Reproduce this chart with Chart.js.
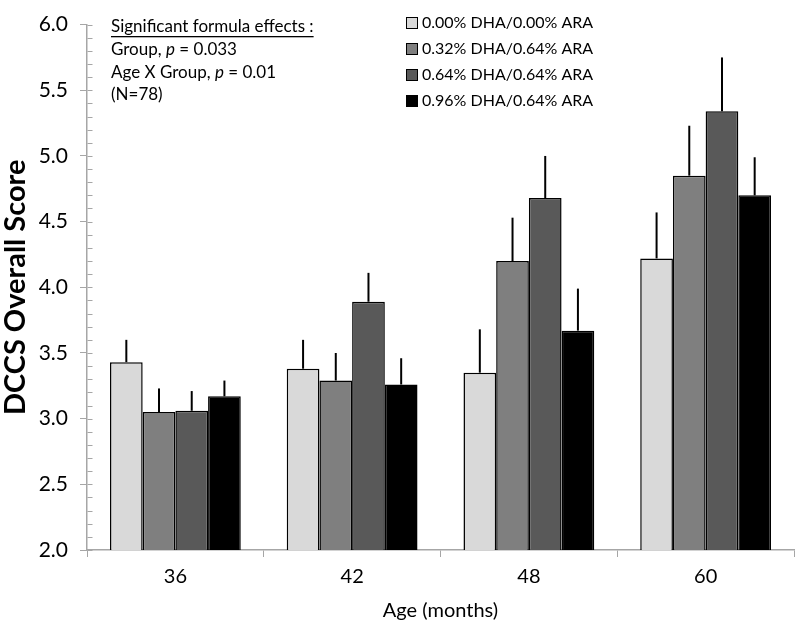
<!DOCTYPE html>
<html lang="en">
<head>
    <meta charset="UTF-8">
    <title>DCCS Overall Score</title>
    <script src="https://cdn.jsdelivr.net/npm/chart.js@4.4.1/dist/chart.umd.min.js"></script>
    <style>
        body { margin: 0; background: #ffffff; }
        .wrap { width: 797px; height: 635px; }
    </style>
</head>
<body>
    <div class="wrap"><canvas id="dccsChart" width="797" height="635"></canvas></div>

    <script>
        // ages (months)
        const ages = ['36', '42', '48', '60'];
        const groupNames = ['0.00% DHA/0.00% ARA', '0.32% DHA/0.64% ARA', '0.64% DHA/0.64% ARA', '0.96% DHA/0.64% ARA'];
        const groupColors = ['#d9d9d9', '#7f7f7f', '#595959', '#000000'];

        // mean DCCS scores per group
        const dha000 = [3.43, 3.38, 3.35, 4.22];
        const dha032 = [3.05, 3.29, 4.20, 4.85];
        const dha064 = [3.06, 3.89, 4.68, 5.34];
        const dha096 = [3.17, 3.26, 3.67, 4.70];

        // upper error bar lengths
        const err000 = [0.17, 0.22, 0.33, 0.35];
        const err032 = [0.18, 0.21, 0.33, 0.38];
        const err064 = [0.15, 0.22, 0.32, 0.41];
        const err096 = [0.12, 0.20, 0.32, 0.29];

        const yTicks = [2.0, 2.5, 3.0, 3.5, 4.0, 4.5, 5.0, 5.5, 6.0];
        const notes = ['Group, ', 'Age X Group, '];

        const FONT = 'Lato, "Open Sans", sans-serif';
        const means = [dha000, dha032, dha064, dha096];
        const errs = [err000, err032, err064, err096];

        // error bars (upward only) + minor ticks on y axis
        const extras = {
            id: 'extras',
            afterDatasetsDraw(chart) {
                const ctx = chart.ctx;
                const y = chart.scales.y;
                ctx.save();
                ctx.strokeStyle = '#000';
                ctx.lineWidth = 2;
                chart.data.datasets.forEach((ds, i) => {
                    const meta = chart.getDatasetMeta(i);
                    meta.data.forEach((bar, j) => {
                        const top = y.getPixelForValue(ds.data[j] + errs[i][j]);
                        ctx.beginPath();
                        ctx.moveTo(bar.x, bar.y);
                        ctx.lineTo(bar.x, top);
                        ctx.stroke();
                    });
                });
                // minor ticks, inside
                ctx.strokeStyle = '#a6a6a6';
                ctx.lineWidth = 1;
                const ax = Math.round(y.right) + 0.5;
                for (let k = 0; k <= 40; k++) {
                    const py = Math.round(y.getPixelForValue(2 + k * 0.1)) + 0.5;
                    ctx.beginPath();
                    ctx.moveTo(ax, py);
                    ctx.lineTo(ax + 5, py);
                    ctx.stroke();
                }
                ctx.restore();
            },
            afterDraw(chart) {
                const ctx = chart.ctx;
                ctx.save();
                ctx.fillStyle = '#000';
                ctx.textBaseline = 'middle';
                // annotation
                ctx.font = '17px ' + FONT;
                const head = 'Significant formula effects :';
                ctx.fillText(head, 111, 27);
                const w = ctx.measureText(head).width;
                ctx.fillRect(111, 36, w, 1.3);
                const lines = [[notes[0], '0.033', 50], [notes[1], '0.01', 73]];
                lines.forEach(([a, b, py]) => {
                    ctx.font = '17px ' + FONT;
                    ctx.fillText(a, 111, py);
                    let x = 111 + ctx.measureText(a).width;
                    ctx.font = 'italic 17px ' + FONT;
                    ctx.fillText('p', x, py);
                    x += ctx.measureText('p').width;
                    ctx.font = '17px ' + FONT;
                    ctx.fillText(' = ' + b, x, py);
                });
                ctx.fillText('(N=78)', 111, 95);
                // legend
                ctx.font = '16px ' + FONT;
                chart.data.datasets.forEach((ds, i) => {
                    const py = 23 + i * 26;
                    ctx.fillStyle = ds.backgroundColor;
                    ctx.fillRect(406, py - 6, 12, 12);
                    ctx.strokeStyle = '#000';
                    ctx.lineWidth = 1;
                    ctx.strokeRect(406.5, py - 5.5, 11, 11);
                    ctx.fillStyle = '#000';
                    ctx.fillText(ds.label, 422, py);
                });
                ctx.restore();
            }
        };

        const ctx = document.getElementById('dccsChart').getContext('2d');
        new Chart(ctx, {
            type: 'bar',
            data: {
                labels: ages,
                datasets: means.map((m, i) => ({
                    label: groupNames[i],
                    data: m,
                    backgroundColor: groupColors[i],
                    borderColor: '#000',
                    borderWidth: 1.5,
                    categoryPercentage: 0.74,
                    barPercentage: 1
                }))
            },
            options: {
                responsive: false,
                animation: false,
                layout: { padding: { top: 12, right: 3, left: 0, bottom: 0 } },
                plugins: {
                    legend: { display: false },
                    tooltip: { enabled: false }
                },
                scales: {
                    x: {
                        afterFit: s => { s.height = 85; },
                        grid: { offset: true, drawOnChartArea: false, tickLength: 7, color: '#a6a6a6' },
                        border: { color: '#a6a6a6', width: 1.5 },
                        ticks: { color: '#000', font: { family: FONT, size: 20 }, padding: 8 },
                        title: { display: true, text: 'Age (months)', color: '#000', font: { family: FONT, size: 20 }, padding: { top: 4, bottom: 12 } }
                    },
                    y: {
                        min: 2, max: 6,
                        afterFit: s => { s.width = 87; },
                        afterBuildTicks: s => { s.ticks = yTicks.map(v => ({ value: v })); },
                        grid: { drawOnChartArea: false, tickLength: 7, color: '#a6a6a6' },
                        border: { color: '#a6a6a6', width: 1.5 },
                        ticks: { color: '#000', font: { family: FONT, size: 21 }, padding: 12, callback: v => v.toFixed(1) },
                        title: { display: true, text: 'DCCS Overall Score', color: '#000', font: { family: FONT, size: 29, weight: 'bold', lineHeight: 1 }, padding: { top: 1, bottom: 0 } }
                    }
                }
            },
            plugins: [extras]
        });
    </script>
</body>
</html>
